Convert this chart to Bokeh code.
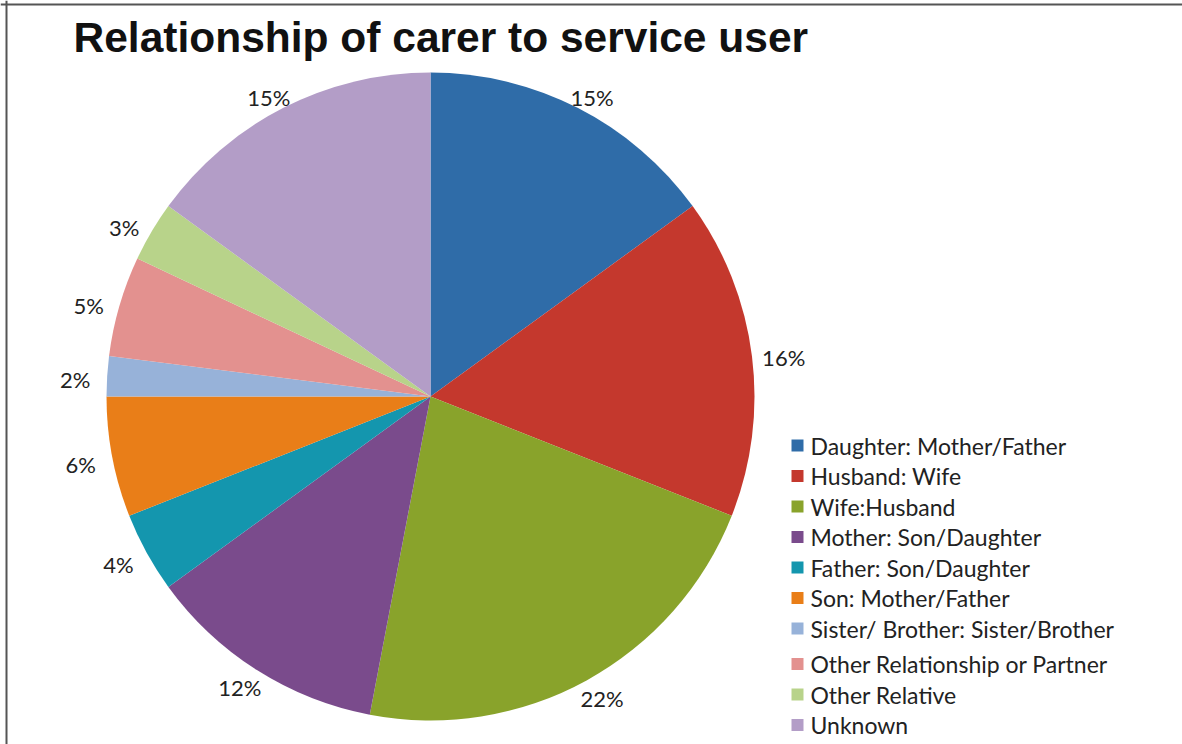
import math
from bokeh.plotting import figure
from bokeh.models import Range1d, Span, ColumnDataSource
from bokeh.core.properties import value
from bokeh.embed import file_html
from bokeh.resources import INLINE

title_text = "Relationship of carer to service user"
categories = [
    "Daughter: Mother/Father",
    "Husband: Wife",
    "Wife:Husband",
    "Mother: Son/Daughter",
    "Father: Son/Daughter",
    "Son: Mother/Father",
    "Sister/ Brother: Sister/Brother",
    "Other Relationship or Partner",
    "Other Relative",
    "Unknown",
]
percentages = [15, 16, 22, 12, 4, 6, 2, 5, 3, 15]
colors = ["#2F6CA8", "#C4382D", "#89A32B", "#7A4B8C", "#1496AE",
          "#E97E18", "#97B2D9", "#E3918F", "#B8D38A", "#B39DC7"]

W, H = 1182, 744
p = figure(width=W, height=H, output_backend="svg", toolbar_location=None,
           x_range=Range1d(0, W), y_range=Range1d(0, H), min_border=0)
p.xaxis.visible = False
p.yaxis.visible = False
p.xgrid.visible = False
p.ygrid.visible = False
p.outline_line_color = None
p.background_fill_color = "white"
p.border_fill_color = "white"

# frame lines (top and left)
p.add_layout(Span(location=H - 4, dimension="width", line_color="#555555", line_width=2))
p.add_layout(Span(location=6, dimension="height", line_color="#555555", line_width=2))

cx, cy, R = 430, H - 396, 324
total = sum(percentages)
starts, ends, lx, ly, labels = [], [], [], [], []
cum = 0.0
for v in percentages:
    f0 = cum / total
    f1 = (cum + v) / total
    starts.append(math.pi / 2 - 2 * math.pi * f0)
    ends.append(math.pi / 2 - 2 * math.pi * f1)
    a = 2 * math.pi * (f0 + f1) / 2
    rr = R + 10
    lx.append(cx + rr * math.sin(a) + 22 * math.sin(a))
    ly.append(cy + rr * math.cos(a) + 6 * math.cos(a) - 4)
    labels.append(f"{v}%")
    cum += v

src = ColumnDataSource(dict(start=starts, end=ends, color=colors, lx=lx, ly=ly, label=labels))
p.wedge(x=cx, y=cy, radius=R, start_angle="start", end_angle="end", direction="clock",
        fill_color="color", line_color=None, source=src)
p.text(x="lx", y="ly", text="label", source=src, text_font=value("Lato"),
       text_font_size="22px", text_color="#222222", text_align="center",
       text_baseline="middle")

# title
p.text(x=[73], y=[H - 37], text=[title_text], text_font=value("Liberation Sans"),
       text_font_style="bold", text_font_size="42.5px", text_color="#111111",
       text_align="left", text_baseline="alphabetic")

# legend
leg_x, leg_y0, step = 797, H - 445, 30.5
gy = [leg_y0 - i * step - (5 if i >= 7 else 0) for i in range(len(categories))]
lsrc = ColumnDataSource(dict(gx=[leg_x] * len(categories), gy=gy,
                             tx=[leg_x + 13] * len(categories), name=categories, color=colors))
p.scatter(x="gx", y="gy", marker="square", size=12, fill_color="color", line_color=None, source=lsrc)
p.text(x="tx", y="gy", text="name", source=lsrc, text_font=value("Lato"),
       text_font_size="23px", text_color="#222222", text_align="left", text_baseline="middle")

open("out.html", "w").write(file_html(p, INLINE))
